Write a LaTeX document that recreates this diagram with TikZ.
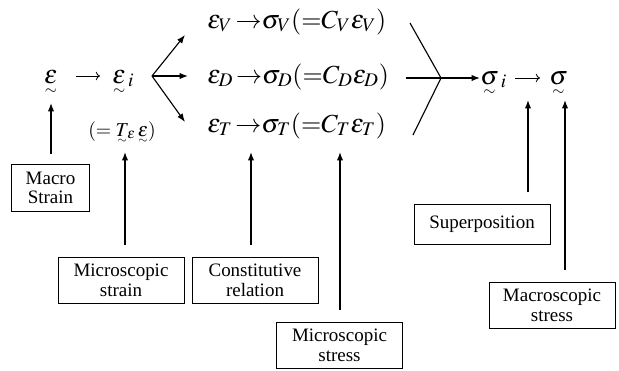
\documentclass[tikz,border=0pt]{standalone}
\usepackage{amsmath}
\usepackage{mathptmx}
\usepackage[no-math]{fontspec}
\setmainfont{Liberation Serif}
\usetikzlibrary{arrows.meta}
\newcommand{\tld}[1]{\smash[b]{\underset{\raisebox{3pt}{$\scriptscriptstyle\sim$}}{#1}}}

\begin{document}
\begin{tikzpicture}[x=0.025cm, y=-0.025cm,
        caja/.style={rectangle, draw, line width=0.6pt, align=center, inner sep=0pt, font=\fontsize{13.5}{14}\selectfont},
        formula/.style={inner sep=0pt, font=\fontsize{18.5}{24}\selectfont},
        flecha/.style={-{Latex[length=6pt,width=4.5pt]}, line width=0.8pt},
        flechita/.style={-{To[length=3pt,width=6pt]}, line width=0.6pt}]
    \useasboundingbox (0,0) rectangle (619,370);

    % fila principal
    \node[formula, anchor=base] (eps) at (51,83) {$\tld{\varepsilon}$};
    \node[formula, anchor=base west] (epsi) at (112,83) {$\tld{\varepsilon}_{\,i}$};
    \node[formula, font=\fontsize{14}{16}\selectfont, anchor=base west] (teps) at (88,136) {$(=\tld{T}_{\!\varepsilon}\,\tld{\varepsilon})$};
    \node[formula, anchor=base west] (rowV) at (207,28) {$\varepsilon_V\,{\rightarrow}\sigma_V(\mathord{=}C_V\varepsilon_V)$};
    \node[formula, anchor=base west] (rowD) at (207,83) {$\varepsilon_D\,{\rightarrow}\sigma_D(\mathord{=}C_D\varepsilon_D)$};
    \node[formula, anchor=base west] (rowT) at (207,132) {$\varepsilon_T\,{\rightarrow}\sigma_T(\mathord{=}C_T\varepsilon_T)$};
    \node[formula, anchor=base west] (sigi) at (480,84) {$\tld{\sigma}_{\,i}$};
    \node[formula, anchor=base west] (sig) at (549,84) {$\tld{\sigma}$};

    \draw[flechita] (76,76) coordinate (a1) -- (100,76) coordinate (a2);
    \draw[flechita] (515,78) coordinate (b1) -- (540,78) coordinate (b2);

    % ramas
    \coordinate (br) at (152,76);
    \draw[flecha] (br) -- (185,35) coordinate (tV);
    \draw[flecha] (br) -- (188,76) coordinate (tD);
    \draw[flecha] (br) -- (185,122) coordinate (tT);

    % superposicion
    \coordinate (m) at (441,78);
    \draw[line width=0.8pt] (410,23) coordinate (mV) -- (m) -- (413,135) coordinate (mT);
    \draw[flecha] (406,78) coordinate (mD) -- (sigi.west |- m);

    % cajas
    \node[caja, minimum width=1.93cm, minimum height=1.18cm] (macro) at (50.5,188) {Macro\\Strain};
    \node[caja, minimum width=3.15cm, minimum height=1.13cm] (mstrain) at (121,280.5) {Microscopic\\strain};
    \node[caja, minimum width=3.15cm, minimum height=1.13cm] (const) at (255,280.5) {Constitutive\\relation};
    \node[caja, minimum width=3.13cm, minimum height=1.13cm] (mstress) at (339.5,345.5) {Microscopic\\stress};
    \node[caja, minimum width=3.4cm, minimum height=0.98cm] (superpos) at (482,224.5) {Superposition};
    \node[caja, minimum width=3.15cm, minimum height=1.13cm] (macstress) at (552,305.5) {Macroscopic\\stress};

    % flechas verticales
    \coordinate (tE) at (51,103);
    \coordinate (tMs) at (125,152);
    \coordinate (tC) at (251,152);
    \coordinate (tMst) at (340,152);
    \coordinate (tS) at (528,100);
    \coordinate (tMac) at (565,100);

    \draw[flecha, shorten <=0.25cm] (tE |- macro.north) -- (tE);
    \draw[flecha, shorten <=0.3cm] (tMs |- mstrain.north) -- (tMs);
    \draw[flecha, shorten <=0.3cm] (tC |- const.north) -- (tC);
    \draw[flecha, shorten <=0.32cm] (tMst |- mstress.north) -- (tMst);
    \draw[flecha, shorten <=0.3cm] (tS |- superpos.north) -- (tS);
    \draw[flecha, shorten <=0.32cm] (tMac |- macstress.north) -- (tMac);
\end{tikzpicture}
\end{document}
